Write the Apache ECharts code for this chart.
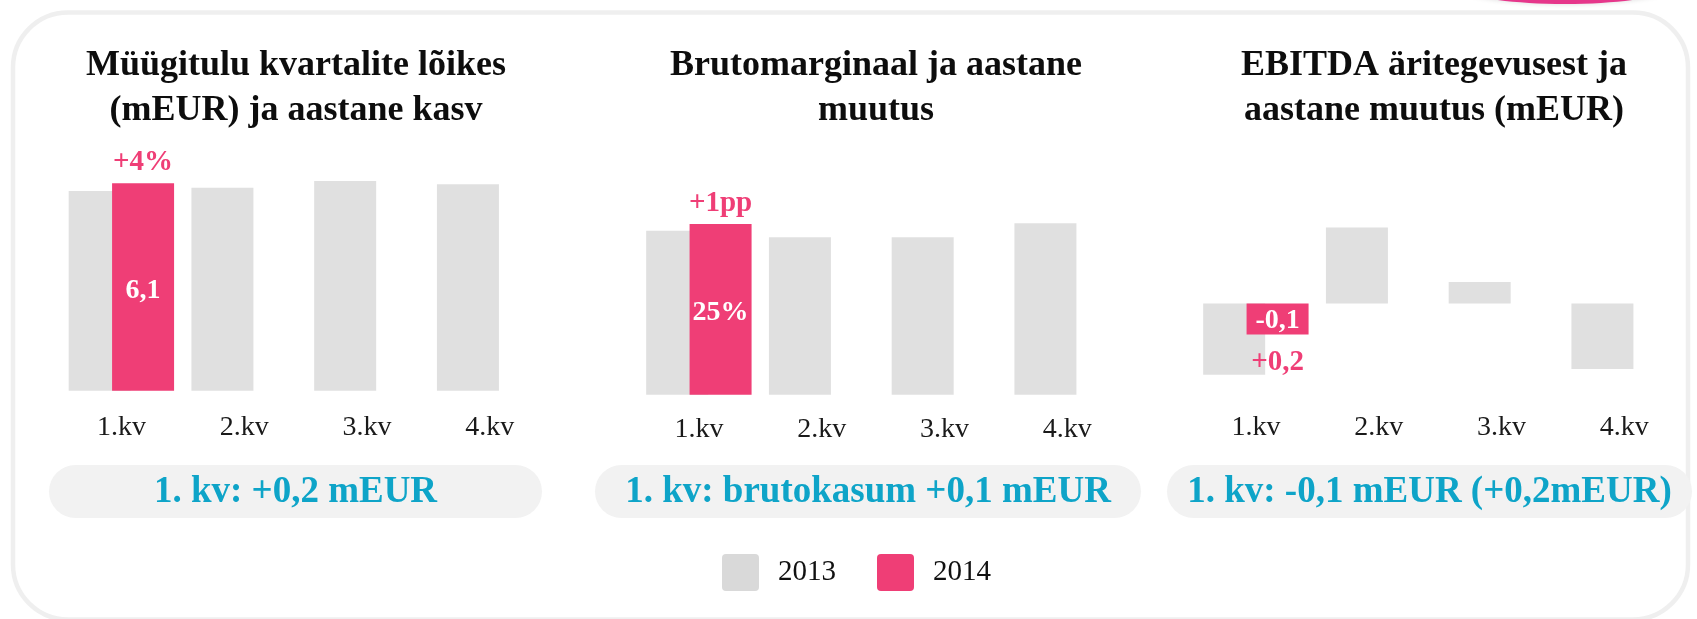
<!DOCTYPE html>
<html>
<head>
<meta charset="utf-8">
<script src="https://cdn.jsdelivr.net/npm/echarts@6/dist/echarts.min.js"></script>
<style>
  html, body { margin: 0; padding: 0; background: #fff; }
  #chart { width: 1697px; height: 619px; }
</style>
</head>
<body>
<div id="chart"></div>
<script>
const quarters = ['1.kv', '2.kv', '3.kv', '4.kv'];

// Müügitulu (mEUR)
const sales2013 = [5.87, 5.97, 6.17, 6.07];
const sales2014 = [6.1, null, null, null];
// Brutomarginaal (%)
const margin2013 = [24.0, 23.05, 23.05, 25.1];
const margin2014 = [25, null, null, null];
// EBITDA äritegevusest (mEUR)
const ebitda2013 = [-0.30, 0.32, 0.09, -0.275];
const ebitda2014 = [-0.13, null, null, null];

const valueLabels2014 = ['6,1', '25%', '-0,1'];
const changeLabels = ['+4%', '+1pp', '+0,2'];

const titles = [
  'Müügitulu kvartalite lõikes\n(mEUR) ja aastane kasv',
  'Brutomarginaal ja aastane\nmuutus',
  'EBITDA äritegevusest ja\naastane muutus (mEUR)'
];
const summaries = [
  '1. kv: +0,2 mEUR',
  '1. kv: brutokasum +0,1 mEUR',
  '1. kv: -0,1 mEUR (+0,2mEUR)'
];

const FONT = 'Liberation Serif';
const GREY = '#e0e0e0';
const PINK = '#ef3e76';
const CYAN = '#0ea4c8';

// panel layout
const panels = [
  { left: 60, top: 152.7, height: 238, min: 0, max: 7, titleX: 296, margin: 23, d13: sales2013, d14: sales2014, markPos: 'top', markDist: 6, valOffset: 4 },
  { left: 637.5, top: 189.9, height: 204.8, min: 0, max: 30, titleX: 876, margin: 21, d13: margin2013, d14: margin2014, markPos: 'top', markDist: 6, valOffset: 3 },
  { left: 1194.5, top: 208.4, height: 190.2, min: -0.4, max: 0.4, titleX: 1434, margin: 15, d13: ebitda2013, d14: ebitda2014, markPos: 'bottom', markDist: 13, valOffset: 2 }
];
const pills = [
  { x: 49, w: 493 },
  { x: 595, w: 546 },
  { x: 1167, w: 525 }
];

const grids = [], xAxes = [], yAxes = [], series = [], titleList = [];

panels.forEach((p, i) => {
  grids.push({ left: p.left, top: p.top, width: 491, height: p.height });
  xAxes.push({
    type: 'category',
    gridIndex: i,
    data: quarters,
    position: 'bottom',
    axisLine: { show: false, onZero: false },
    axisTick: { show: false },
    axisLabel: { margin: p.margin, fontFamily: FONT, fontSize: 28, color: '#1a1a1a' }
  });
  yAxes.push({
    type: 'value',
    gridIndex: i,
    min: p.min,
    max: p.max,
    show: false,
    splitLine: { show: false }
  });
  series.push({
    name: '2013',
    type: 'bar',
    xAxisIndex: i,
    yAxisIndex: i,
    data: p.d13,
    barWidth: 62,
    barGap: '-30%',
    itemStyle: { color: GREY }
  });
  series.push({
    name: '2014',
    type: 'bar',
    xAxisIndex: i,
    yAxisIndex: i,
    data: p.d14,
    barWidth: 62,
    barGap: '-30%',
    itemStyle: { color: PINK },
    label: {
      show: true,
      position: 'inside',
      offset: [0, p.valOffset],
      formatter: valueLabels2014[i],
      color: '#fff',
      fontFamily: FONT,
      fontWeight: 'bold',
      fontSize: 28
    },
    markPoint: {
      symbol: 'rect',
      symbolSize: 1,
      itemStyle: { color: 'rgba(0,0,0,0)' },
      label: {
        show: true,
        position: p.markPos,
        distance: p.markDist,
        formatter: '{b}',
        color: PINK,
        fontFamily: FONT,
        fontWeight: 'bold',
        fontSize: 29
      },
      data: [{ name: changeLabels[i], coord: [0, p.d14[0]] }]
    }
  });
  titleList.push({
    text: titles[i],
    left: p.titleX,
    top: 43,
    padding: 0,
    textAlign: 'center',
    textStyle: { fontFamily: FONT, fontSize: 36, fontWeight: 'bold', color: '#0d0d0d', lineHeight: 45 }
  });
});

const graphics = [
  {
    type: 'rect',
    shape: { x: 13, y: 12.5, width: 1675, height: 607, r: 55 },
    style: { fill: 'none', stroke: '#efefef', lineWidth: 4.5 },
    z: -10
  },
  {
    type: 'ellipse',
    shape: { cx: 1565, cy: -16, rx: 112, ry: 20 },
    style: { fill: '#e6378b', shadowBlur: 5, shadowColor: 'rgba(0,0,0,0.15)' }
  }
];
pills.forEach((b, i) => {
  graphics.push({
    type: 'rect',
    shape: { x: b.x, y: 465, width: b.w, height: 53, r: 26.5 },
    style: { fill: '#f2f2f2' }
  });
  graphics.push({
    type: 'text',
    x: b.x + b.w / 2,
    y: 492,
    style: {
      text: summaries[i],
      align: 'center',
      verticalAlign: 'middle',
      fontFamily: FONT,
      fontWeight: 'bold',
      fontSize: 37,
      fill: CYAN
    }
  });
});

const roundBox = 'path://M4,0 H33 A4,4 0 0 1 37,4 V33 A4,4 0 0 1 33,37 H4 A4,4 0 0 1 0,33 V4 A4,4 0 0 1 4,0 Z';

const option = {
  animation: false,
  backgroundColor: '#fff',
  title: titleList,
  legend: {
    left: 722,
    top: 554,
    padding: 0,
    icon: roundBox,
    itemWidth: 37,
    itemHeight: 37,
    itemGap: 41,
    selectedMode: false,
    data: [
      { name: '2013', itemStyle: { color: '#d9d9d9' } },
      { name: '2014', itemStyle: { color: PINK } }
    ],
    textStyle: { fontFamily: FONT, fontSize: 29, color: '#111', padding: [0, 0, 0, 14] }
  },
  grid: grids,
  xAxis: xAxes,
  yAxis: yAxes,
  series: series,
  graphic: graphics
};

const chart = echarts.init(document.getElementById('chart'));
chart.setOption(option);
window.addEventListener('resize', () => chart.resize());
</script>
</body>
</html>
